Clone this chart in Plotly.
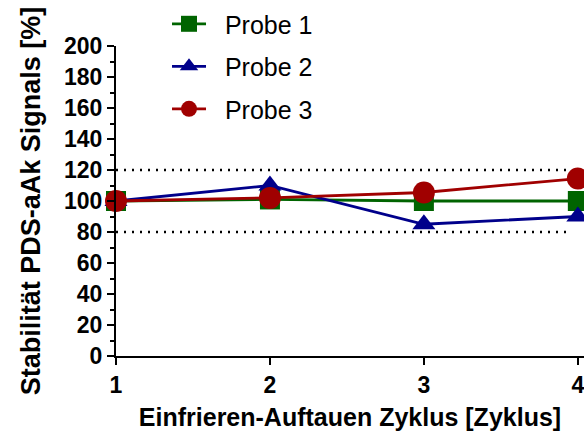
import plotly.graph_objects as go

cycles = [1, 2, 3, 4]
probe1 = [100, 101, 100, 100]
probe2 = [100, 110, 85, 90]
probe3 = [100, 102, 105.5, 114.5]
names = ["Probe 1", "Probe 2", "Probe 3"]
colors = ["#006400", "#00008B", "#A00000"]
symbols = ["square", "triangle-up", "circle"]
sizes = [20, 20, 22]
limits = [80, 120]

FONT = "Liberation Sans, Arial, sans-serif"
NB = "\u00a0\u00a0"

fig = go.Figure()
for i, ys in enumerate([probe1, probe2, probe3]):
    fig.add_trace(go.Scatter(
        x=cycles, y=ys, name=NB + names[i], mode="lines+markers",
        legendgroup=f"g{i}",
        line=dict(color=colors[i], width=2.8),
        marker=dict(symbol=symbols[i], size=sizes[i], color=colors[i]),
        cliponaxis=False,
    ))

for lv in limits:
    fig.add_shape(type="line", xref="x", yref="y", x0=1, x1=3.95, y0=lv, y1=lv,
                  line=dict(color="black", width=2.5, dash="2px,6px"), layer="below")

fig.update_layout(
    template="none",
    width=584, height=436,
    margin=dict(l=116, r=0, t=46, b=80),
    plot_bgcolor="white", paper_bgcolor="white",
    font=dict(family=FONT, color="black"),
    showlegend=True,
    legend=dict(x=0.109, y=1.145, xanchor="left", yanchor="top",
                font=dict(size=25, family=FONT), itemwidth=34,
                tracegroupgap=7, bgcolor="rgba(0,0,0,0)"),
    xaxis=dict(range=[1, 4.04], tickvals=cycles, ticks="outside", ticklen=7,
               tickwidth=2, tickcolor="black", showline=True, linecolor="black", linewidth=2,
               showgrid=False, zeroline=False, automargin=False, ticklabeloverflow="allow",
               tickfont=dict(size=23, family=FONT, weight="bold"),
               title=dict(text="<b>Einfrieren-Auftauen Zyklus [Zyklus]</b>",
                          font=dict(size=25), standoff=12)),
    yaxis=dict(range=[0, 200], tickvals=list(range(0, 201, 20)), ticks="outside",
               ticklen=7, tickwidth=2, tickcolor="black", showline=True, linecolor="black", linewidth=2,
               showgrid=False, zeroline=False, automargin=False,
               minor=dict(tickvals=list(range(10, 200, 20)), ticks="outside", ticklen=4, tickwidth=1.5, tickcolor="black"),
               tickfont=dict(size=23, family=FONT, weight="bold"),
               title=dict(text="<b>Stabilität PDS-aAk Signals [%]</b>",
                          font=dict(size=27), standoff=16)),
)

fig.write_html("out.html")
